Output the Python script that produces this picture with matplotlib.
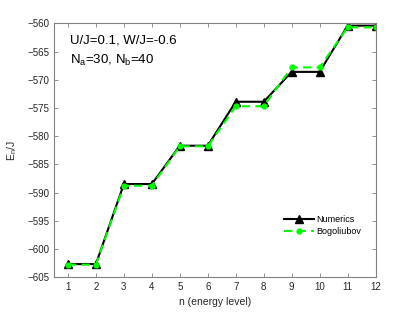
import matplotlib
matplotlib.use("Agg")
from matplotlib import pyplot as plt

n = [1, 2, 3, 4, 5, 6, 7, 8, 9, 10, 11, 12]
numerics = [-602.7, -602.7, -588.5, -588.5, -581.7, -581.7, -573.9, -573.9, -568.6, -568.6, -560.4, -560.4]
bogoliubov = [-602.8, -602.8, -588.8, -588.8, -581.8, -581.8, -574.7, -574.7, -567.8, -567.8, -560.7, -560.7]
yticks = list(range(-605, -559, 5))

plt.rcParams['font.family'] = ['Liberation Sans', 'DejaVu Sans']
fig = plt.figure(figsize=(4.15, 3.12), dpi=100)
ax = fig.add_axes([0.130, 0.112, 0.775, 0.813])

ax.plot(n, numerics, color="black", lw=1.5, marker="^", ms=6, label="Numerics")
ax.plot(n, bogoliubov, color="#00ff00", lw=1.5, ls=(0, (4, 2.5)), marker="o", ms=3.5,
        label="Bogoliubov")

ax.set_xlim(0.5, 12)
ax.set_ylim(-605, -560)
ax.set_xticks(n)
ax.set_yticks(yticks)
ax.tick_params(direction="in", top=True, right=True, labelsize=7, colors="#262626",
               length=3, width=0.6)
for s in ax.spines.values():
    s.set_color("#808080")
    s.set_linewidth(0.8)
ax.tick_params(color="#808080")

ax.set_xlabel("n (energy level)", fontsize=7.5, color="#262626", labelpad=4)
ax.set_ylabel("E$_\\mathregular{n}$/J", fontsize=7.5, color="#262626", labelpad=6)

ax.text(0.05, 0.92, "U/J=0.1, W/J=-0.6", transform=ax.transAxes, fontsize=9.5)
ax.text(0.05, 0.84, "N$_\\mathregular{a}$=30, N$_\\mathregular{b}$=40",
        transform=ax.transAxes, fontsize=9.5)

ax.legend(loc="lower right", bbox_to_anchor=(0.98, 0.13), frameon=False, fontsize=6.5,
          handlelength=3.4, handletextpad=0.2, labelspacing=0.3)

fig.savefig("out.png", dpi=100)
